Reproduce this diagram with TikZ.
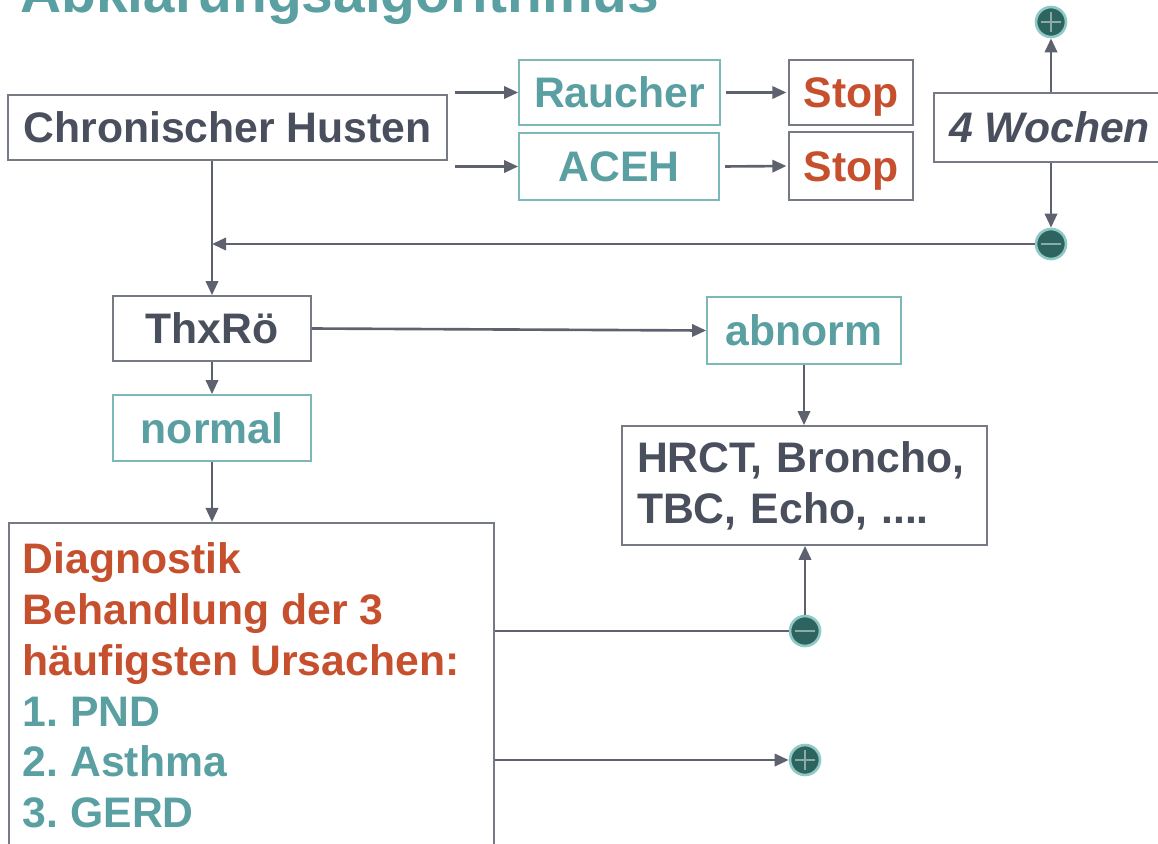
\documentclass[tikz,border=0pt]{standalone}
\usepackage{fontspec}
\setmainfont{Liberation Sans}
\usetikzlibrary{arrows.meta,positioning}
\definecolor{tealtext}{HTML}{5A9FA1}
\definecolor{tealline}{HTML}{7DB8B8}
\definecolor{slatetext}{HTML}{4A4F5E}
\definecolor{redtext}{HTML}{C64F2E}
\definecolor{linegray}{HTML}{5E626E}
\definecolor{boxgray}{HTML}{767A84}
\definecolor{dotfill}{HTML}{2D6460}
\definecolor{dotglow}{HTML}{8FC9C5}
\frenchspacing

\begin{document}
\begin{tikzpicture}[x=0.02cm, y=-0.02cm, font=\fontsize{24.3}{29}\selectfont\bfseries,
	graybox/.style={draw=boxgray, line width=1pt, text=slatetext, inner sep=0pt},
	tealbox/.style={draw=tealline, line width=1pt, text=tealtext, inner sep=0pt},
	onerow/.style={text height=17.4pt, text depth=0pt},
	stopbox/.style={graybox, onerow, text=redtext, minimum width=2.48cm},
	flow/.style={draw=linegray, line width=1.5pt, -{Triangle[length=8pt,width=7pt]}},
	link/.style={draw=linegray, line width=1.5pt},
	dot/.style={circle, fill=dotfill, draw=dotglow, line width=1.5pt, minimum size=0.6cm, inner sep=0pt},
	plusdot/.style={dot, path picture={
		\draw[dotfill!55!white, line width=0.6pt]
		([xshift=-0.2cm]path picture bounding box.center) -- ([xshift=0.2cm]path picture bounding box.center)
		([yshift=-0.2cm]path picture bounding box.center) -- ([yshift=0.2cm]path picture bounding box.center);}},
	minusdot/.style={dot, path picture={
		\draw[dotfill!55!white, line width=0.6pt]
		([xshift=-0.2cm]path picture bounding box.center) -- ([xshift=0.2cm]path picture bounding box.center);}}]
	\clip (0,0) rectangle (1158,843);
	%title
	\node[anchor=base west, inner sep=0pt, text=tealtext, font=\fontsize{32.4}{38}\selectfont\bfseries]
		(title) at (20,12) {Abklärungsalgorithmus};
	%boxes
	\node[graybox, onerow, minimum width=8.78cm, minimum height=1.3cm] (husten) at (227.5,127.5) {Chronischer Husten};
	\node[tealbox, onerow, minimum width=4.02cm, minimum height=1.3cm] (raucher) at (619.5,92.5) {Raucher};
	\node[tealbox, onerow, minimum width=4.0cm, minimum height=1.34cm] (aceh) at (619,166.5) {ACEH};
	\node[stopbox, minimum height=1.3cm] (stopa) at (851,92.5) {Stop};
	\node[stopbox, minimum height=1.36cm] (stopb) at (851,166) {Stop};
	\node[graybox, onerow, minimum width=4.62cm, minimum height=1.38cm, font=\fontsize{24.3}{29}\selectfont\bfseries\itshape]
		(wochen) at (1049.5,127.5) {4 Wochen};
	\node[graybox, onerow, minimum width=3.96cm, minimum height=1.3cm] (thx) at (212,328.5) {ThxRö};
	\node[tealbox, onerow, minimum width=3.96cm, minimum height=1.32cm] (normal) at (212,428) {normal};
	\node[tealbox, onerow, minimum width=3.88cm, minimum height=1.34cm] (abnorm) at (804,330.5) {abnorm};
	\node[graybox, minimum width=7.3cm, minimum height=2.38cm, text width=6.7cm, inner xsep=0.3cm, align=left]
		(hrct) at (804.5,485.5) {HRCT, Broncho,\\TBC, Echo, ....};
	\node[graybox, anchor=north west, inner xsep=0.28cm, inner ysep=11pt] (diag) at (8,522)
		{\parbox[t][7.5cm][t]{9.14cm}{\color{redtext}Diagnostik\\Behandlung der 3\\häufigsten Ursachen:\\
		\color{tealtext}1. PND\\2. Asthma\\3. GERD}};
	%dots
	\node[plusdot] (topdot) at (1051,22) {};
	\node[minusdot] (botdot) at (1051,244) {};
	\node[minusdot] (mdot) at (805,631) {};
	\node[plusdot] (pdot) at (805,760) {};
	\coordinate (split) at (455,0);
	%connectors
	\draw[flow] (split |- raucher) -- (raucher.west);
	\draw[flow] (split |- aceh) -- (aceh.west);
	\draw[flow, shorten <=3pt, shorten >=1pt] (raucher.east) -- (stopa.west);
	\draw[flow, shorten <=3pt, shorten >=1pt] (aceh.east) -- (stopb.west);
	\draw[flow] (topdot |- wochen.north) -- (topdot.south);
	\draw[flow] (botdot |- wochen.south) -- (botdot.north);
	\draw[flow] (botdot.west) -- (thx.north |- botdot);
	\draw[flow] (thx.north |- husten.south) -- (thx.north);
	\draw[flow] (thx.east) -- (abnorm.west);
	\draw[flow] (thx.south) -- (normal.north);
	\draw[flow] (normal.south) -- (diag.north -| normal.south);
	\draw[flow] (abnorm.south) -- (abnorm.south |- hrct.north);
	\draw[link] (mdot -| diag.east) -- (mdot.west);
	\draw[flow] (mdot.north) -- (mdot |- hrct.south);
	\draw[flow] (pdot -| diag.east) -- (pdot.west);
\end{tikzpicture}
\end{document}
